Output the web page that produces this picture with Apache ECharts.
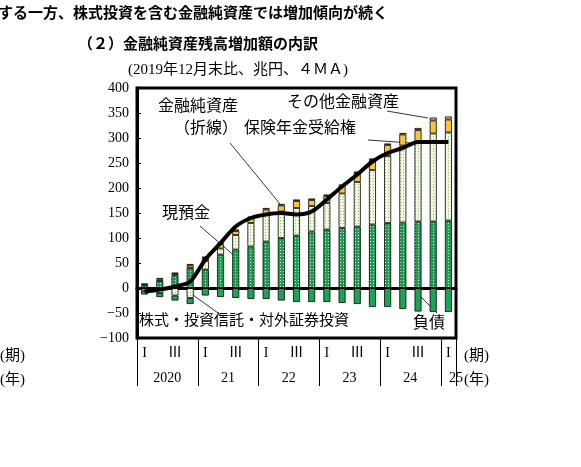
<!DOCTYPE html>
<html><head><meta charset="utf-8">
<script src="https://cdn.jsdelivr.net/npm/echarts@6/dist/echarts.min.js"></script>
<style>body{margin:0;background:#fff}#c{width:581px;height:467px}</style>
</head><body><div id="c"></div>
<script>
var quarters = ['I','II','III','IV','I','II','III','IV','I','II','III','IV','I','II','III','IV','I','II','III','IV','I'];
var years = ['','2020','','','','21','','','','22','','','','23','','','','24','','','25'];
var cash = [5,14,25,40,37,67,77,83,93,100,105,113,117,120,123,127,130,131,133,133,135];
var stocks = [-5,-10,-15,-20,17,12,29,47,54,53,55,51,53,69,89,109,134,154,158,176,176];
var insurance = [2,3,3,5,6,8,8,10,10,12,14,12,14,15,18,20,22,22,25,26,26];
var other = [2,3,3,3,3,3,3,3,3,3,3,3,3,3,3,3,3,3,4,6,6];
var liabilities = [-8,-8,-10,-12,-15,-18,-20,-22,-22,-25,-28,-28,-28,-30,-32,-38,-38,-42,-47,-48,-48];
var netAssets = [-7,-3,3,13,57,90,123,140,147,150,147,153,177,203,227,253,270,280,292,292,292];

var FONT = '"Liberation Serif","Noto Sans CJK JP",serif';
var chart = echarts.init(document.getElementById('c'));

function dots(bg, fg) {
    var cv = document.createElement('canvas');
    cv.width = 3; cv.height = 3;
    var ctx = cv.getContext('2d');
    ctx.fillStyle = bg; ctx.fillRect(0, 0, 3, 3);
    ctx.fillStyle = fg; ctx.fillRect(1, 1, 1, 1);
    return {image: cv, repeat: 'repeat'};
}

function bar(name, data, color) {
    return {
        name: name, type: 'bar', stack: 'a', data: data, barWidth: 7,
        itemStyle: {color: color, borderColor: '#000', borderWidth: 0.8}
    };
}

var option = {
    animation: false,
    textStyle: {fontFamily: FONT},
    grid: {left: 137, right: 125, top: 88, bottom: 129, show: true, borderColor: '#000', borderWidth: 3},
    xAxis: [{
        type: 'category', data: quarters, position: 'bottom',
        axisLine: {lineStyle: {color: '#000', width: 3}},
        axisTick: {show: false},
        axisLabel: {
            color: '#000', fontSize: 14, margin: 8,
            formatter: function (v, i) { return i % 4 === 0 ? 'I' : (i % 4 === 2 ? 'Ⅲ' : ''); }
        }
    }, {
        type: 'category', data: years, position: 'bottom', offset: 0,
        axisLine: {show: false},
        axisTick: {show: true, length: 48, inside: false,
            interval: function (i) { return i % 4 === 0; },
            lineStyle: {color: '#000', width: 1}},
        axisLabel: {color: '#000', fontSize: 14, margin: 33, interval: 0,
            formatter: function (v) { return v === '25' ? '{s|25}' : v; },
            rich: {s: {padding: [0, 0, 0, 0], fontSize: 14}},
            padding: [0, 0, 0, 15]}
    }],
    yAxis: {
        type: 'value', min: -100, max: 400, interval: 50,
        axisLine: {show: true, lineStyle: {color: '#000', width: 3}},
        axisTick: {show: true, inside: true, length: 4, lineStyle: {color: '#000'}},
        splitLine: {show: false},
        axisLabel: {color: '#000', fontSize: 14, formatter: function (v) { return String(v).replace('-', '−'); }}
    },
    series: [
        bar('現預金', cash, dots('#1e9e52', '#d8f0d8')),
        bar('株式・投資信託・対外証券投資', stocks, dots('#f2f8e0', '#8cc46c')),
        bar('保険年金受給権', insurance, '#f7c43c'),
        bar('その他金融資産', other, '#f4b89a'),
        bar('負債', liabilities, '#1aa552'),
        {
            name: '金融純資産', type: 'line', data: netAssets, smooth: 0.3, symbol: 'none',
            lineStyle: {color: '#000', width: 4}, z: 5,
            markLine: {silent: true, symbol: 'none', label: {show: false},
                lineStyle: {color: '#000', width: 1, type: 'solid'}, data: [{yAxis: 0}]}
        }
    ],
    graphic: [
        {type: 'text', left: -2, top: 5, style: {text: 'する一方、株式投資を含む金融純資産では増加傾向が続く', font: 'bold 15px "Noto Sans CJK JP"', fill: '#000'}},
        {type: 'text', left: 78, top: 36, style: {text: '（２）金融純資産残高増加額の内訳', font: 'bold 15px "Noto Sans CJK JP"', fill: '#000'}},
        {type: 'text', left: 128, top: 63, style: {text: '(2019年12月末比、兆円、４ＭＡ)', font: '15px ' + FONT, fill: '#000'}},
        {type: 'text', left: 158, top: 99, style: {text: '金融純資産', font: '16px ' + FONT, fill: '#000'}},
        {type: 'text', left: 174, top: 121, style: {text: '（折線）', font: '16px ' + FONT, fill: '#000'}},
        {type: 'text', left: 244, top: 121, style: {text: '保険年金受給権', font: '16px ' + FONT, fill: '#000'}},
        {type: 'text', left: 287, top: 95, style: {text: 'その他金融資産', font: '16px ' + FONT, fill: '#000'}},
        {type: 'text', left: 162, top: 206, style: {text: '現預金', font: '16px ' + FONT, fill: '#000'}},
        {type: 'text', left: 139, top: 314, style: {text: '株式・投資信託・対外証券投資', font: '15px ' + FONT, fill: '#000'}},
        {type: 'text', left: 413, top: 316, style: {text: '負債', font: '16px ' + FONT, fill: '#000'}},
        {type: 'text', left: 0, top: 349, style: {text: '(期)', font: '15px ' + FONT, fill: '#000'}},
        {type: 'text', left: 0, top: 373, style: {text: '(年)', font: '15px ' + FONT, fill: '#000'}},
        {type: 'text', left: 464, top: 349, style: {text: '(期)', font: '15px ' + FONT, fill: '#000'}},
        {type: 'text', left: 464, top: 373, style: {text: '(年)', font: '15px ' + FONT, fill: '#000'}},
        {type: 'line', shape: {x1: 230, y1: 143, x2: 280, y2: 204}, style: {stroke: '#000', lineWidth: 0.8}},
        {type: 'line', shape: {x1: 368, y1: 140, x2: 411, y2: 143}, style: {stroke: '#000', lineWidth: 0.8}},
        {type: 'line', shape: {x1: 387, y1: 111, x2: 428, y2: 118}, style: {stroke: '#000', lineWidth: 0.8}},
        {type: 'line', shape: {x1: 200, y1: 226, x2: 237, y2: 258}, style: {stroke: '#000', lineWidth: 0.8}},
        {type: 'line', shape: {x1: 225, y1: 318, x2: 193, y2: 295}, style: {stroke: '#000', lineWidth: 0.8}},
        {type: 'line', shape: {x1: 437, y1: 313, x2: 421, y2: 297}, style: {stroke: '#000', lineWidth: 0.8}}
    ]
};
chart.setOption(option);
</script>
</body></html>
